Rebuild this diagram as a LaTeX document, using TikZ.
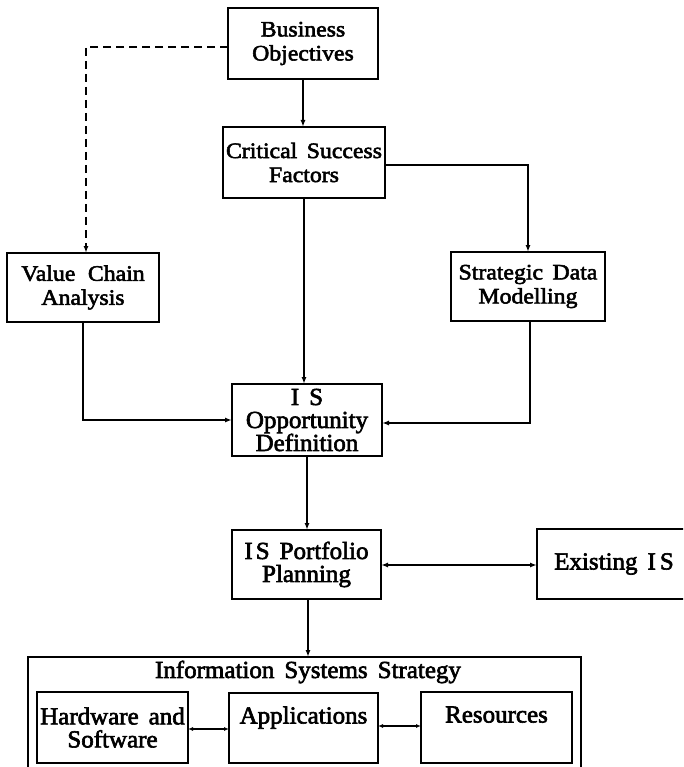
\documentclass[tikz,border=0pt]{standalone}
\usepackage{fontspec}
\setmainfont{Liberation Serif}
% two text faces: a wide one for the upper boxes, a plainer one below
\newfontfamily\upperface[FakeStretch=1.08,WordSpace=1.6,FakeBold=2.5]{Liberation Serif}
\newfontfamily\lowerface[FakeStretch=1.02,WordSpace=1.6,FakeBold=2.5]{Liberation Serif}
\usetikzlibrary{arrows.meta}

\begin{document}
\begin{tikzpicture}[x=1pt,y=-1pt,
  every node/.style={inner sep=0pt,outer sep=0pt},
  boxbase/.style={draw,line width=1.4pt,align=center},
  upperbox/.style={boxbase,font=\upperface\fontsize{22}{24}\selectfont},
  lowerbox/.style={boxbase,font=\lowerface\fontsize{24.5}{23}\selectfont},
  link/.style={line width=1.5pt,-{Latex[length=7pt,width=5pt]}},
  dlink/.style={line width=1.5pt,{Latex[length=7pt,width=5pt]}-{Latex[length=7pt,width=5pt]}},
  slink/.style={line width=1.5pt,{Latex[length=5pt,width=4pt]}-{Latex[length=5pt,width=4pt]}},
  optional/.style={link,dash pattern=on 8pt off 5pt}
]
\useasboundingbox (0,0) rectangle (683,767);
\clip (0,0) rectangle (683,767);

% upper level
\node[upperbox,minimum width=150pt,minimum height=71pt] (bo) at (303,43.5)
  {\fontsize{22}{25}\selectfont Business\\Objectives};
\node[upperbox,minimum width=162pt,minimum height=71pt] (csf) at (304,162.5)
  {\fontsize{22}{23}\selectfont Critical Success\\Factors};
\node[upperbox,minimum width=152pt,minimum height=69pt] (vca) at (83,287.5)
  {\fontsize{22}{28}\selectfont Value\hspace{3pt} Chain\\Analysis};
\node[upperbox,minimum width=154pt,minimum height=69pt] (sdm) at (528,286.5)
  {\fontsize{22}{28}\selectfont Strategic Data\\Modelling};

% middle level
\node[lowerbox,minimum width=150pt,minimum height=72pt] (iso) at (307,420)
  {\fontsize{24.5}{22}\selectfont I S\\Opportunity\\Definition};
\node[lowerbox,minimum width=149pt,minimum height=69pt] (ipp) at (306.5,564.5)
  {\fontsize{24.5}{28}\selectfont I\kern3pt S Portfolio\\Planning};
\node[lowerbox,minimum width=154pt,minimum height=70pt] (eis) at (614,564)
  {Existing I\kern4pt S};

% strategy block
\node[draw,line width=1.4pt,minimum width=553pt,minimum height=133pt] (iss) at (304.5,723.5) {};
\node[font=\lowerface\fontsize{24.5}{23}\selectfont] (isst) at (308,672)
  {Information Systems Strategy};
\node[lowerbox,minimum width=151pt,minimum height=71pt] (hs) at (112.5,727.5)
  {\fontsize{24.5}{27}\selectfont Hardware and\\Software};
\node[lowerbox,minimum width=149pt,minimum height=70pt,text depth=26pt] (app) at (303.5,728)
  {Applications};
\node[lowerbox,minimum width=151pt,minimum height=71pt,text depth=26pt] (res) at (496.5,727.5)
  {Resources};

% connectors
\draw[optional] ([yshift=-3.5pt]bo.west) -| ([xshift=3pt]vca.north);
\draw[link] (bo.south) -- (bo.south |- csf.north);
\draw[link] ([yshift=-2.5pt]csf.east) -| (sdm.north);
\draw[link] (csf.south) -- (csf.south |- iso.north);
\draw[link] (vca.south) |- (iso.west);
\draw[link] ([xshift=2pt]sdm.south) |- ([yshift=-3pt]iso.east);
\draw[link] (iso.south) -- (iso.south |- ipp.north);
\draw[dlink] ([yshift=-0.5pt]ipp.east) -- ([yshift=-0.5pt]ipp.east -| eis.west);
\draw[link] ([xshift=1.5pt]ipp.south) -- ([xshift=1.5pt]ipp.south |- iss.north);
\draw[slink] ([yshift=-1.5pt]hs.east) -- ([yshift=-1.5pt]hs.east -| app.west);
\draw[slink] ([yshift=2pt]app.east) -- ([yshift=2pt]app.east -| res.west);
\end{tikzpicture}
\end{document}
